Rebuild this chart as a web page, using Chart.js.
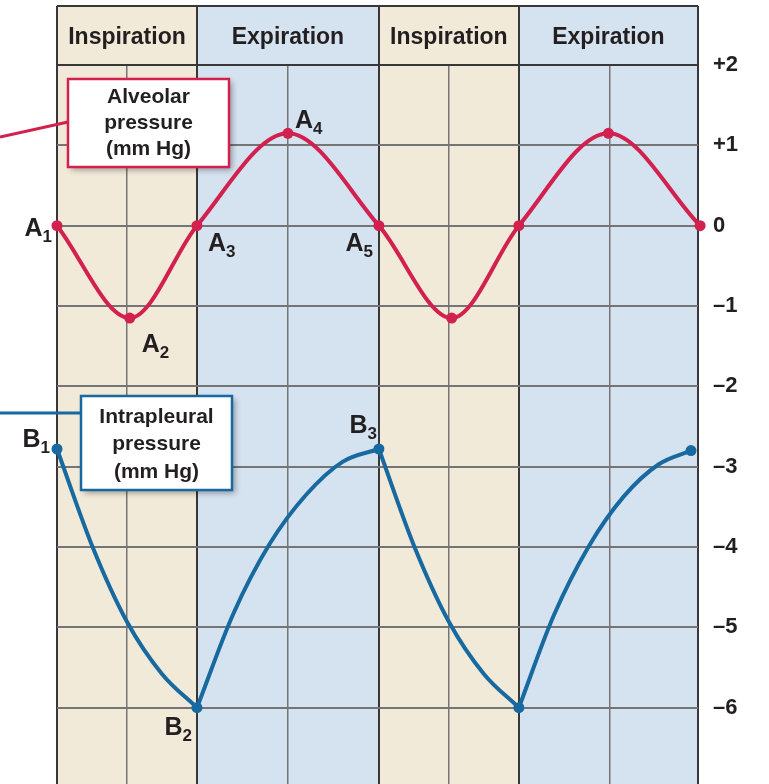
<!DOCTYPE html>
<html>
<head>
<meta charset="utf-8">
<script src="https://cdn.jsdelivr.net/npm/chart.js@4.4.0/dist/chart.umd.min.js"></script>
<style>
  html, body { margin: 0; padding: 0; background: #fff; }
  #chart { display: block; }
</style>
</head>
<body>
<canvas id="chart" width="769" height="784"></canvas>
<script>
  // time axis: phase boundaries and the thin mid-phase grid lines
  const phaseNames = ["Inspiration", "Expiration", "Inspiration", "Expiration"];
  const phaseBounds = [0, 2, 4.6, 6.6, 9.16];
  const gridTimes = [0, 1, 2, 3.3, 4.6, 5.6, 6.6, 7.9, 9.16];
  const pressureTicks = [2, 1, 0, -1, -2, -3, -4, -5, -6];

  // alveolar pressure, every point gets a dot
  const alveolarTime = [0, 1.04, 2, 3.3, 4.6, 5.64, 6.6, 7.88, 9.19];
  const alveolarPressure = [0, -1.15, 0, 1.15, 0, -1.15, 0, 1.15, 0];
  const alveolarNames = ["A1", "A2", "A3", "A4", "A5"];

  // intrapleural pressure, dots only at the marked indices
  const intrapleuralTime = [
    0, 0.5, 1.0, 1.5, 2,
    2.52, 3.04, 3.56, 4.08, 4.6,
    5.1, 5.6, 6.1, 6.6,
    7.1, 7.6, 8.1, 8.6, 9.06,
  ];
  const intrapleuralPressure = [
    -2.78, -3.98, -4.93, -5.58, -6.0,
    -4.83, -3.96, -3.35, -2.94, -2.78,
    -3.98, -4.93, -5.58, -6.0,
    -4.85, -3.99, -3.37, -2.97, -2.8,
  ];
  const intrapleuralMarks = [0, 4, 9, 13, 18];
  const intrapleuralNames = ["B1", "B2", "B3"];

  const colors = {
    red: "#d2204f",
    blue: "#17699f",
    tan: "#f2ead9",
    sky: "#d5e2f0",
    grid: "#757575",
    gridDark: "#383838",
    text: "#231f20",
  };
  const FONT = "'Liberation Sans', Arial, sans-serif";

  const toXY = (ts, ps) => ts.map((t, i) => ({ x: t, y: ps[i] }));
  const alveolarPoints = toXY(alveolarTime, alveolarPressure);
  const intrapleuralPoints = toXY(intrapleuralTime, intrapleuralPressure);
  const intrapleuralDots = intrapleuralMarks.map((i) => intrapleuralPoints[i]);

  // split into monotonic stretches so the corners at B points stay sharp
  const intrapleuralSegments = [];
  for (let i = 0; i < intrapleuralMarks.length - 1; i++) {
    intrapleuralSegments.push(
      intrapleuralPoints.slice(intrapleuralMarks[i], intrapleuralMarks[i + 1] + 1)
    );
  }

  // where each point name sits relative to its dot
  const nameOffsets = {
    A1: { dx: -5, dy: 10, align: "right" },
    A2: { dx: 12, dy: 34, align: "left" },
    A3: { dx: 11, dy: 25, align: "left" },
    A4: { dx: 7, dy: -5, align: "left" },
    A5: { dx: -6, dy: 25, align: "right" },
    B1: { dx: -7, dy: -2, align: "right" },
    B2: { dx: -5, dy: 27, align: "right" },
    B3: { dx: -2, dy: -16, align: "right" },
  };

  const boxes = [
    {
      lines: ["Alveolar", "pressure", "(mm Hg)"],
      color: colors.red,
      rect: [68, 79, 161, 88],
      leader: [0, 137, 68, 122],
      baselines: [103, 129, 155],
    },
    {
      lines: ["Intrapleural", "pressure", "(mm Hg)"],
      color: colors.blue,
      rect: [81, 396, 151, 94],
      leader: [0, 413, 81, 413],
      baselines: [423, 450, 478],
    },
  ];

  const phaseBands = {
    id: "phaseBands",
    beforeDraw(chart) {
      const { ctx, chartArea, scales } = chart;
      const top = 6;
      ctx.save();
      for (let i = 0; i < phaseNames.length; i++) {
        const x0 = scales.x.getPixelForValue(phaseBounds[i]);
        const x1 = scales.x.getPixelForValue(phaseBounds[i + 1]);
        ctx.fillStyle = phaseNames[i] === "Inspiration" ? colors.tan : colors.sky;
        ctx.fillRect(x0, top, x1 - x0, chartArea.bottom - top);
      }
      ctx.restore();
    },
    beforeDatasetsDraw(chart) {
      const { ctx, chartArea, scales } = chart;
      const top = 6;
      ctx.save();
      ctx.strokeStyle = colors.gridDark;
      ctx.lineWidth = 2;
      ctx.beginPath();
      ctx.moveTo(chartArea.left, top);
      ctx.lineTo(chartArea.right, top);
      ctx.moveTo(chartArea.left, chartArea.top);
      ctx.lineTo(chartArea.right, chartArea.top);
      phaseBounds.forEach((b) => {
        const x = Math.round(scales.x.getPixelForValue(b));
        ctx.moveTo(x, top);
        ctx.lineTo(x, chartArea.top);
      });
      ctx.stroke();

      ctx.fillStyle = colors.text;
      ctx.font = `bold 23px ${FONT}`;
      ctx.textAlign = "center";
      ctx.textBaseline = "alphabetic";
      for (let i = 0; i < phaseNames.length; i++) {
        const x0 = scales.x.getPixelForValue(phaseBounds[i]);
        const x1 = scales.x.getPixelForValue(phaseBounds[i + 1]);
        ctx.fillText(phaseNames[i], (x0 + x1) / 2, 44);
      }
      ctx.restore();
    },
    afterDatasetsDraw(chart) {
      const { ctx, scales } = chart;
      ctx.save();

      // call-out boxes
      boxes.forEach((b) => {
        const [x, y, w, h] = b.rect;
        ctx.strokeStyle = b.color;
        ctx.lineWidth = 3;
        ctx.beginPath();
        ctx.moveTo(b.leader[0], b.leader[1]);
        ctx.lineTo(b.leader[2], b.leader[3]);
        ctx.stroke();

        ctx.save();
        ctx.shadowColor = "rgba(0,0,0,0.35)";
        ctx.shadowBlur = 6;
        ctx.shadowOffsetX = 3;
        ctx.shadowOffsetY = 3;
        ctx.fillStyle = "#fff";
        ctx.fillRect(x, y, w, h);
        ctx.restore();
        ctx.lineWidth = 2.5;
        ctx.strokeRect(x, y, w, h);

        ctx.fillStyle = colors.text;
        ctx.font = `bold 21px ${FONT}`;
        ctx.textAlign = "center";
        ctx.textBaseline = "alphabetic";
        b.lines.forEach((line, i) => ctx.fillText(line, x + w / 2, b.baselines[i]));
      });

      // point names with subscripts
      const drawName = (name, pt) => {
        const o = nameOffsets[name];
        const px = scales.x.getPixelForValue(pt.x) + o.dx;
        const py = scales.y.getPixelForValue(pt.y) + o.dy;
        const letter = name[0];
        const sub = name.slice(1);
        ctx.font = `bold 25px ${FONT}`;
        const wl = ctx.measureText(letter).width;
        ctx.font = `bold 17px ${FONT}`;
        const ws = ctx.measureText(sub).width;
        const x0 = o.align === "right" ? px - wl - ws : px;
        ctx.fillStyle = colors.text;
        ctx.textAlign = "left";
        ctx.textBaseline = "alphabetic";
        ctx.font = `bold 25px ${FONT}`;
        ctx.fillText(letter, x0, py);
        ctx.font = `bold 17px ${FONT}`;
        ctx.fillText(sub, x0 + wl, py + 6);
      };
      alveolarNames.forEach((n, i) => drawName(n, alveolarPoints[i]));
      intrapleuralNames.forEach((n, i) => drawName(n, intrapleuralDots[i]));

      ctx.restore();
    },
  };

  const datasets = [
    {
      type: "line",
      label: "Alveolar pressure",
      data: alveolarPoints,
      borderColor: colors.red,
      borderWidth: 4,
      cubicInterpolationMode: "monotone",
      clip: false,
      pointRadius: 5.5,
      pointBorderWidth: 0,
      pointBackgroundColor: colors.red,
    },
  ];
  intrapleuralSegments.forEach((seg) => {
    datasets.push({
      type: "line",
      label: "Intrapleural pressure",
      data: seg,
      borderColor: colors.blue,
      borderWidth: 4,
      cubicInterpolationMode: "monotone",
      clip: false,
      pointRadius: 0,
    });
  });
  datasets.push({
    type: "line",
    label: "Intrapleural marks",
    data: intrapleuralDots,
    showLine: false,
    clip: false,
    pointRadius: 5.5,
    pointBorderWidth: 0,
    pointBackgroundColor: colors.blue,
  });

  new Chart(document.getElementById("chart").getContext("2d"), {
    type: "line",
    data: { datasets },
    options: {
      responsive: false,
      animation: false,
      events: [],
      layout: {
        autoPadding: false,
        padding: { left: 57, top: 65, right: 0, bottom: 0 },
      },
      plugins: {
        legend: { display: false },
        tooltip: { enabled: false },
      },
      scales: {
        x: {
          type: "linear",
          min: 0,
          max: 9.16,
          afterBuildTicks: (s) => {
            s.ticks = gridTimes.map((v) => ({ value: v }));
          },
          afterFit: (s) => {
            s.height = 0;
            s.paddingLeft = 0;
            s.paddingRight = 0;
          },
          ticks: { display: false },
          border: { display: false },
          grid: {
            drawTicks: false,
            color: (c) =>
              phaseBounds.includes(c.tick.value) ? colors.gridDark : colors.grid,
            lineWidth: (c) => (phaseBounds.includes(c.tick.value) ? 2 : 1.5),
          },
        },
        y: {
          type: "linear",
          position: "right",
          min: -6.95,
          max: 2,
          afterBuildTicks: (s) => {
            s.ticks = pressureTicks.map((v) => ({ value: v }));
          },
          afterFit: (s) => {
            s.width = 71;
            s.paddingTop = 0;
            s.paddingBottom = 0;
          },
          border: { display: false },
          grid: {
            drawTicks: false,
            color: colors.grid,
            lineWidth: 2,
          },
          ticks: {
            padding: 15,
            color: colors.text,
            font: { family: FONT, size: 22, weight: "bold" },
            callback: (v) => {
              const n = Math.round(v);
              if (n > 0) return "+" + n;
              if (n < 0) return "\u2013" + Math.abs(n);
              return "0";
            },
          },
        },
      },
    },
    plugins: [phaseBands],
  });
</script>
</body>
</html>
